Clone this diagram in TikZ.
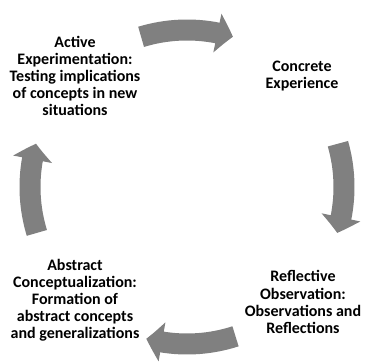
\documentclass[tikz,border=0pt]{standalone}
\usepackage{fontspec}
\setmainfont{Carlito}
\usetikzlibrary{arrows.meta,bending}
\definecolor{cyclegray}{RGB}{128,128,128}
\begin{document}
\begin{tikzpicture}[x=0.75pt,y=0.75pt,
  stage/.style={align=center,inner sep=0pt,font=\bfseries\fontsize{12}{12.8}\selectfont},
  cyclearrow/.style={draw=cyclegray,line width=15.75pt,-{Triangle[width=29pt,length=12pt,bend]}}]
\useasboundingbox (0,0) rectangle (365,364);
\coordinate (c) at (187,177);
\node[stage] (1) at (302,288) {Concrete\\Experience};
\node[stage] (2) at (303,62) {Reflective\\Observation:\\Observations and\\Reflections};
\node[stage] (3) at (75,64) {Abstract\\Conceptualization:\\Formation of\\abstract concepts\\and generalizations};
\node[stage] (4) at (75,288) {Active\\Experimentation:\\Testing implications\\of concepts in new\\situations};

\path[cyclearrow] ([shift={(107:157)}]c) arc[start angle=107,end angle=73,radius=117.75pt];
\path[cyclearrow] ([shift={(16:157)}]c) arc[start angle=16,end angle=-17,radius=117.75pt];
\path[cyclearrow] ([shift={(-72:157)}]c) arc[start angle=-72,end angle=-105,radius=117.75pt];
\path[cyclearrow] ([shift={(197:157)}]c) arc[start angle=197,end angle=164,radius=117.75pt];
\end{tikzpicture}
\end{document}
